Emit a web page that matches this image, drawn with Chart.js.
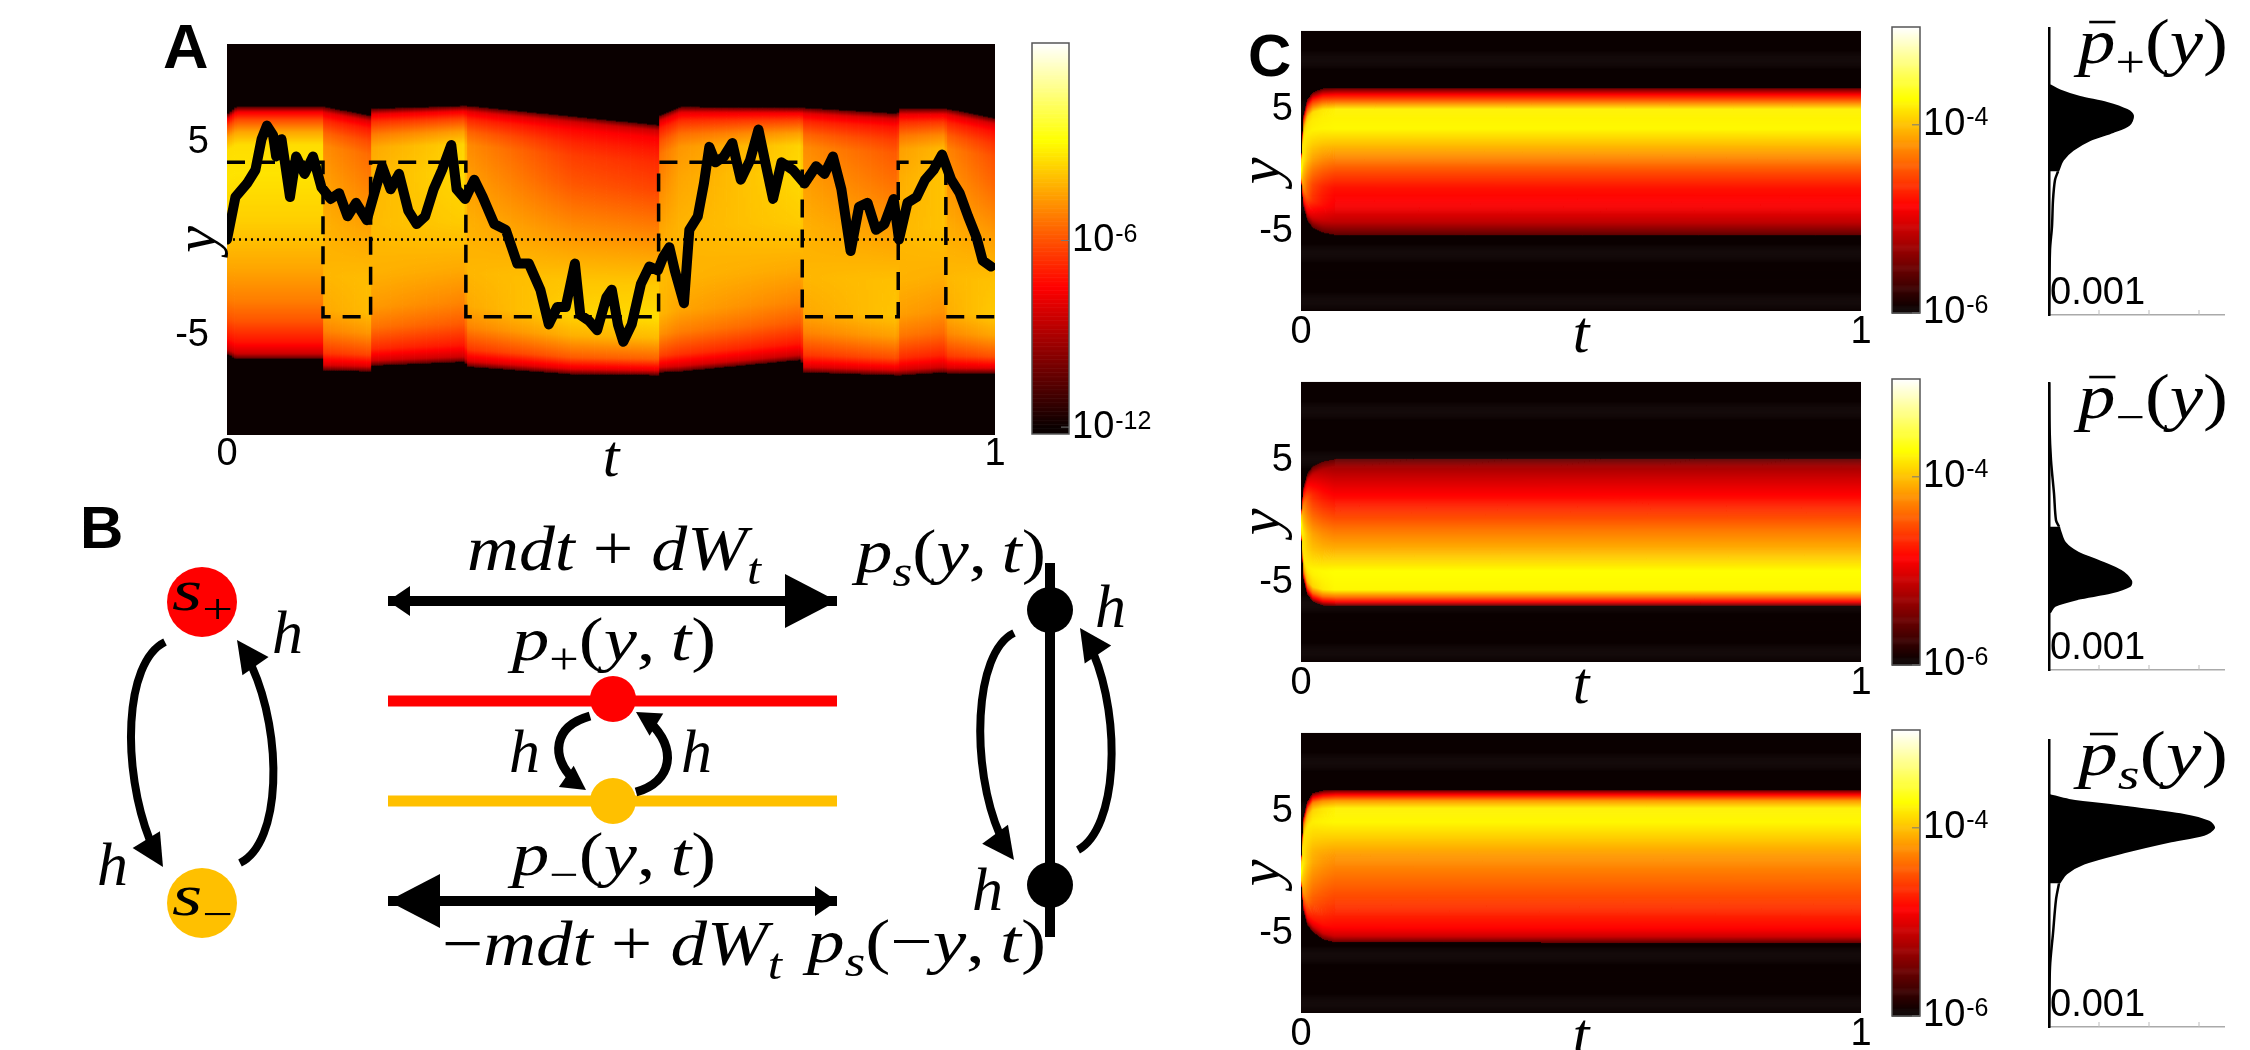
<!DOCTYPE html>
<html>
<head>
<meta charset="utf-8">
<title>Switching drift: sample path, diagram and filter densities</title>
<script src="https://cdn.jsdelivr.net/npm/chart.js@4.4.1/dist/chart.umd.min.js"></script>
<style>
  html, body { margin: 0; padding: 0; background: #fff; }
  body { position: relative; width: 2250px; height: 1050px; overflow: hidden; }
  canvas { position: absolute; }
</style>
</head>
<body>
<canvas id="heatA" width="1010" height="490" style="left:0;top:0"></canvas>
<canvas id="barA" width="180" height="480" style="left:1010px;top:0"></canvas>
<canvas id="diagB" width="1190" height="580" style="left:0;top:470px"></canvas>
<canvas id="heatC0" width="725" height="360" style="left:1150px;top:0"></canvas>
<canvas id="heatC1" width="725" height="360" style="left:1150px;top:351px"></canvas>
<canvas id="heatC2" width="725" height="360" style="left:1150px;top:702px"></canvas>
<canvas id="barC0" width="130" height="360" style="left:1870px;top:0"></canvas>
<canvas id="barC1" width="130" height="360" style="left:1870px;top:351px"></canvas>
<canvas id="barC2" width="130" height="360" style="left:1870px;top:702px"></canvas>
<canvas id="denC0" width="260" height="330" style="left:1990px;top:8px"></canvas>
<canvas id="denC1" width="260" height="330" style="left:1990px;top:363px"></canvas>
<canvas id="denC2" width="260" height="330" style="left:1990px;top:720px"></canvas>
<script>
// ---------- panel A: sample path y(t), hidden state and filter ----------
const trajT = [0, 0.011, 0.026, 0.037, 0.045, 0.052, 0.060, 0.064, 0.071, 0.082,
  0.090, 0.101, 0.112, 0.123, 0.135, 0.146, 0.157, 0.168, 0.182, 0.194,
  0.202, 0.213, 0.224, 0.236, 0.247, 0.258, 0.269, 0.280, 0.292, 0.299,
  0.310, 0.322, 0.333, 0.348, 0.363, 0.378, 0.393, 0.408, 0.419, 0.430,
  0.441, 0.453, 0.460, 0.471, 0.482, 0.494, 0.501, 0.509, 0.516, 0.527,
  0.539, 0.550, 0.561, 0.568, 0.576, 0.583, 0.595, 0.602, 0.613, 0.621,
  0.628, 0.636, 0.647, 0.658, 0.669, 0.681, 0.692, 0.703, 0.711, 0.722,
  0.737, 0.752, 0.767, 0.778, 0.789, 0.800, 0.812, 0.823, 0.834, 0.845,
  0.856, 0.868, 0.875, 0.886, 0.898, 0.909, 0.920, 0.931, 0.943, 0.954,
  0.965, 0.976, 0.984, 0.995];
const trajY = [0, 2.2, 2.9, 3.6, 5.2, 5.9, 5.4, 4.3, 5.2, 2.2,
  4.3, 3.4, 4.3, 2.7, 2.1, 2.4, 1.2, 1.9, 1.0, 2.7,
  3.8, 2.6, 3.4, 1.5, 0.8, 1.2, 2.6, 3.6, 4.9, 2.6,
  2.1, 3.1, 2.2, 0.8, 0.5, -1.25, -1.25, -2.6, -4.4, -3.5,
  -3.5, -1.25, -3.9, -4.2, -4.7, -3.0, -2.6, -4.4, -5.3, -4.4,
  -2.3, -1.4, -1.6, -0.9, -0.4, -1.6, -3.3, 0.5, 1.2, 2.9,
  4.8, 4.0, 4.3, 5.0, 3.1, 4.1, 5.7, 3.6, 2.1, 4.0,
  3.6, 2.9, 3.8, 3.4, 4.3, 2.6, -0.6, 1.7, 1.9, 0.5,
  0.8, 2.1, 0, 1.9, 2.2, 3.1, 3.6, 4.4, 3.1, 2.4,
  1.2, 0.1, -1.1, -1.4];
const switchT = [0, 0.125, 0.187, 0.311, 0.562, 0.749, 0.874, 0.936, 1];
const switchY = [4, -4, 4, -4, 4, -4, 4, -4, -4];
const tTicks = [0, 1];
const yTicks = [-5, 5];

// filter band: edges and colour-map fraction (0 black .. 1 white)
const heatAT   = [0, 0.012, 0.124, 0.126, 0.186, 0.188, 0.31, 0.312, 0.45, 0.561, 0.563, 0.59, 0.748, 0.75, 0.873, 0.875, 0.935, 0.937, 1];
const heatATop = [6.5, 6.9, 6.9, 6.9, 6.45, 6.8, 6.95, 6.95, 6.4, 5.95, 6.45, 6.9, 6.85, 6.85, 6.55, 6.8, 6.8, 6.8, 6.3];
const heatABot = [-5.9, -6.15, -6.15, -6.75, -6.8, -6.5, -6.3, -6.55, -6.95, -7.0, -6.85, -6.8, -6.2, -6.85, -7.0, -7.0, -6.85, -6.9, -6.9];
const heatAMix = [0, 0, 0, 0.45, 0.65, 0.3, 0.05, 0.45, 0.9, 1, 0.6, 0.4, 0.05, 0.45, 0.75, 0.35, 0.2, 0.5, 0.8];
const profU     = [0, 0.02, 0.065, 0.15, 0.23, 0.36, 0.55, 0.74, 0.85, 0.9, 0.95, 0.98, 1];
const profPlus  = [0.13, 0.3, 0.4, 0.5, 0.56, 0.62, 0.68, 0.71, 0.7, 0.62, 0.48, 0.36, 0.13];
const profMinus = [0.13, 0.34, 0.52, 0.65, 0.7, 0.67, 0.58, 0.48, 0.44, 0.41, 0.37, 0.3, 0.13];
const barATicks = [1e-12, 1e-6];
const barALog = [-12.2, 0.35];

// ---------- panel C: p+, p-, ps over time, and their stationary profiles ----------
const heatCT   = [0, 0.004, 0.011, 0.021, 0.039, 0.06, 1];
const heatCMix = [0, 0.3, 0.55, 0.75, 0.9, 1, 1];
const topC1 = [0.6, 4.6, 5.9, 6.5, 6.8, 6.85, 6.85];
const botC1 = [-0.6, -2.8, -4.0, -4.6, -5.0, -5.2, -5.25];
const topC2 = [0.6, 2.8, 4.0, 4.6, 5.0, 5.2, 5.25];
const botC2 = [-0.6, -4.6, -5.9, -6.5, -6.8, -6.85, -6.85];
const topC3 = [0.6, 4.6, 5.9, 6.6, 6.8, 6.85, 6.85];
const botC3 = [-0.6, -3.0, -4.2, -4.8, -5.4, -5.65, -5.7];
const profInitU = [0, 0.06, 0.2, 0.5, 0.8, 0.94, 1];
const profInit  = [0.15, 0.45, 0.68, 0.78, 0.68, 0.45, 0.15];
const profC1U = [0, 0.087, 0.186, 0.318, 0.42, 0.52, 0.62, 0.723, 0.855, 0.905, 0.955, 1];
const profC1  = [0.14, 0.28, 0.36, 0.4, 0.48, 0.57, 0.66, 0.74, 0.73, 0.55, 0.38, 0.14];
const profC2U = [0, 0.029, 0.062, 0.11, 0.236, 0.376, 0.517, 0.69, 0.872, 0.95, 1];
const profC2  = [0.14, 0.38, 0.55, 0.74, 0.75, 0.64, 0.55, 0.42, 0.3, 0.24, 0.14];
const profC3U = [0, 0.04, 0.096, 0.17, 0.29, 0.45, 0.57, 0.69, 0.79, 0.88, 0.93, 0.97, 1];
const profC3  = [0.15, 0.3, 0.38, 0.42, 0.48, 0.55, 0.6, 0.68, 0.74, 0.73, 0.6, 0.38, 0.15];
const barCTicks = [1e-6, 1e-4];
const barCLog = [-6, -2.96];

const denTicks = [0.001, 0.002, 0.003];
const denC1FillY = [6.93, 6.5, 5.97, 5.5, 4.93, 4.45, 3.73, 3.17, 2.52, 1.72, 0.92, 0];
const denC1FillX = [0.00002, 0.00022, 0.00062, 0.00116, 0.00156, 0.00168, 0.0016, 0.00128, 0.00082, 0.00048, 0.00028, 0.00018];
const denC1LineY = [0, -0.68, -2.3, -4.4, -6.3, -11.5];
const denC1LineX = [0.00018, 0.00012, 0.00008, 0.00006, 0.00002, 0];
const denC2FillY = [0, -0.3, -1.3, -2.1, -2.73, -3.55, -4.35, -4.75, -5.3, -5.8, -6.36, -6.9];
const denC2FillX = [0.0002, 0.00022, 0.00032, 0.00058, 0.00098, 0.00144, 0.00164, 0.00162, 0.00124, 0.00058, 0.00012, 0.00002];
const denC2LineY = [11.5, 8, 5.3, 2.65, 0.5, 0];
const denC2LineX = [0, 0.00001, 0.00004, 0.0001, 0.00014, 0.0002];
const denC3FillY = [7.1, 6.7, 6.15, 5.5, 4.95, 4.45, 3.9, 3.35, 2.5, 1.6, 0.8, 0];
const denC3FillX = [0, 0.0004, 0.0015, 0.0027, 0.0032, 0.0033, 0.0031, 0.0024, 0.0015, 0.0007, 0.00035, 0.0002];
const denC3LineY = [0, -1.3, -4, -6.7, -11.5];
const denC3LineX = [0.0002, 0.00014, 0.00008, 0.00002, 0];

// ---------- panel B: diagram, in diagram units ----------
const stateX = [202, 202], stateY = [602, 903];
const dotX = [613, 613, 1050, 1050], dotY = [699, 801, 610, 885];
const trackX = [388, 837], trackY = [701, 801];
const axisY = [563, 937];
const driftY = [601, 901];
const hopCurves = [
  [165, 642, 118, 665, 122, 800, 163, 867],
  [240, 863, 287, 840, 283, 705, 237, 640],
  [590, 716, 548, 728, 550, 765, 586, 790],
  [636, 792, 678, 780, 678, 738, 636, 712],
  [1014, 633, 968, 655, 970, 800, 1014, 860],
  [1078, 850, 1123, 825, 1122, 690, 1080, 628]
];
const hLabelX = [272, 97, 509, 681, 1095, 972];
const hLabelY = [653, 885, 772, 772, 627, 910];

// ---------- helpers ----------
Chart.defaults.font.family = '"Liberation Sans", Arial, sans-serif';
Chart.defaults.color = '#000';
const SANS = '"Liberation Sans", Arial, sans-serif';
const SERIF = '"Liberation Serif", "DejaVu Serif", serif';
const BG = 0.0156;

function hot(f) {
  f = Math.max(BG, Math.min(1, f));
  const r = Math.min(1, f / 0.375);
  const g = Math.max(0, Math.min(1, (f - 0.375) / 0.375));
  const b = Math.max(0, Math.min(1, (f - 0.75) / 0.25));
  return 'rgb(' + Math.round(r * 255) + ',' + Math.round(g * 255) + ',' + Math.round(b * 255) + ')';
}

function interp(xs, ys, x) {
  if (x <= xs[0]) return ys[0];
  for (let i = 1; i < xs.length; i++) {
    if (x <= xs[i]) {
      const k = (x - xs[i - 1]) / (xs[i] - xs[i - 1]);
      return ys[i - 1] + k * (ys[i] - ys[i - 1]);
    }
  }
  return ys[ys.length - 1];
}

function bandField(T, TOP, BOT, MIX, u0, v0, u1, v1) {
  return (t, y) => {
    const top = interp(T, TOP, t), bot = interp(T, BOT, t);
    if (y > top || y < bot) return BG;
    const u = (y - bot) / (top - bot);
    const m = interp(T, MIX, t);
    return (1 - m) * interp(u0, v0, u) + m * interp(u1, v1, u);
  };
}

const pts = (xs, ys) => xs.map((x, i) => ({x: x, y: ys[i]}));

// parts: [text, kind]; kind i = italic, r = roman, si/sr = subscript, bi = italic with bar
function mathParts(ctx, parts, size, draw) {
  let cx = 0;
  for (const [txt, kind] of parts) {
    const sub = kind[0] === 's';
    const fs = sub ? size * 0.7 : size;
    ctx.font = (kind.endsWith('i') ? 'italic ' : '') + fs + 'px ' + SERIF;
    const w = ctx.measureText(txt).width;
    if (draw) {
      ctx.fillText(txt, cx, sub ? size * 0.22 : 0);
      if (kind === 'bi') ctx.fillRect(cx + w * 0.3, -size * 0.66, w * 0.7, size * 0.04);
    }
    cx += w;
  }
  return cx;
}

function mathText(ctx, x, y, parts, size, width) {
  ctx.save();
  ctx.textAlign = 'left';
  ctx.textBaseline = 'alphabetic';
  const natural = mathParts(ctx, parts, size, false);
  ctx.translate(x, y);
  if (width) ctx.scale(width / natural, 1);
  mathParts(ctx, parts, size, true);
  ctx.restore();
}

function heatPlugin(field, nt, ny) {
  return {
    id: 'heat',
    beforeDatasetsDraw(chart) {
      const {ctx, chartArea: a, scales: {x, y}} = chart;
      ctx.save();
      ctx.beginPath();
      ctx.rect(a.left, a.top, a.width, a.height);
      ctx.clip();
      const tAt = i => x.min + (x.max - x.min) * i / nt;
      for (let j = 0; j < ny; j++) {
        const y0 = y.min + (y.max - y.min) * j / ny;
        const y1 = y.min + (y.max - y.min) * (j + 1) / ny;
        const pTop = y.getPixelForValue(y1), pBot = y.getPixelForValue(y0);
        let runStart = 0, runColor = null;
        for (let i = 0; i <= nt; i++) {
          const col = i < nt ? hot(field((tAt(i) + tAt(i + 1)) / 2, (y0 + y1) / 2)) : null;
          if (col !== runColor) {
            if (runColor !== null) {
              const p0 = x.getPixelForValue(tAt(runStart)), p1 = x.getPixelForValue(tAt(i));
              ctx.fillStyle = runColor;
              ctx.fillRect(p0, pTop, p1 - p0 + 0.6, pBot - pTop + 0.6);
            }
            runStart = i;
            runColor = col;
          }
        }
      }
      ctx.restore();
    }
  };
}

function titlePlugin(yGap, letter, letterDx, letterDy, letterSize) {
  return {
    id: 'titles',
    afterDraw(chart) {
      const {ctx, chartArea: a, scales: {y}} = chart;
      ctx.save();
      ctx.fillStyle = '#000';
      ctx.font = 'italic 60px ' + SERIF;
      ctx.textAlign = 'center';
      ctx.textBaseline = 'alphabetic';
      ctx.fillText('t', (a.left + a.right) / 2, a.bottom + 41);
      ctx.translate(a.left - yGap, y.getPixelForValue(0));
      ctx.rotate(-Math.PI / 2);
      ctx.textBaseline = 'middle';
      ctx.fillText('y', 0, 0);
      ctx.restore();
      if (letter) {
        ctx.save();
        ctx.font = 'bold ' + letterSize + 'px ' + SANS;
        ctx.textAlign = 'left';
        ctx.fillStyle = '#000';
        ctx.fillText(letter, a.left + letterDx, a.top + letterDy);
        ctx.restore();
      }
    }
  };
}

function tAxis(height, pad) {
  return {
    type: 'linear', min: 0, max: 1,
    grid: {display: false, drawTicks: false}, border: {display: false},
    ticks: {font: {size: 38, lineHeight: 1}, padding: pad, maxRotation: 0},
    afterBuildTicks: s => { s.ticks = tTicks.map(v => ({value: v})); },
    afterFit: s => { s.height = height; }
  };
}

function yAxis(width, pad, lim) {
  return {
    type: 'linear', min: -lim, max: lim,
    grid: {display: false, drawTicks: false}, border: {display: false},
    ticks: {font: {size: 38}, padding: pad},
    afterBuildTicks: s => { s.ticks = yTicks.map(v => ({value: v})); },
    afterFit: s => { s.width = width; }
  };
}

const quiet = {legend: {display: false}, tooltip: {enabled: false}};

// ---------- panel A ----------
const fieldA = bandField(heatAT, heatATop, heatABot, heatAMix, profU, profPlus, profU, profMinus);
new Chart(document.getElementById('heatA'), {
  type: 'scatter',
  data: {
    datasets: [
      {data: pts(trajT, trajY), showLine: true, borderColor: '#000', borderWidth: 10, pointRadius: 0,
        borderJoinStyle: 'round', borderCapStyle: 'round'},
      {data: pts(switchT, switchY), showLine: true, stepped: 'before', borderColor: '#000', borderWidth: 3.5,
        borderDash: [18, 12], pointRadius: 0},
      {data: pts([0, 1], [0, 0]), showLine: true, borderColor: '#000', borderWidth: 2.5, borderDash: [2, 4], pointRadius: 0}
    ]
  },
  options: {
    responsive: false, animation: false,
    layout: {autoPadding: false, padding: {left: 0, top: 44, right: 15, bottom: 0}},
    plugins: quiet,
    scales: {x: tAxis(55, 1), y: yAxis(227, 18, 10.13)}
  },
  plugins: [heatPlugin(fieldA, 320, 391), titlePlugin(28, 'A', -64, 24, 63)]
});

// ---------- colour bars ----------
function barPlugin(lo, hi, expShift) {
  return {
    id: 'bar',
    beforeDatasetsDraw(chart) {
      const {ctx, chartArea: a, scales: {x, y}} = chart;
      const n = 300;
      const x0 = x.getPixelForValue(0), x1 = x.getPixelForValue(1);
      for (let j = 0; j < n; j++) {
        const p0 = y.getPixelForValue(Math.pow(10, lo + (hi - lo) * j / n));
        const p1 = y.getPixelForValue(Math.pow(10, lo + (hi - lo) * (j + 1) / n));
        ctx.fillStyle = hot((j + 0.5) / n);
        ctx.fillRect(x0, p1, x1 - x0, p0 - p1 + 0.6);
      }
      ctx.strokeStyle = '#555';
      ctx.lineWidth = 1.5;
      ctx.strokeRect(a.left, a.top, a.width, a.height);
    },
    afterDraw(chart) {
      // tick labels as 10 with a raised exponent, at the axis' own tick positions
      const {ctx, chartArea: a, scales: {y}} = chart;
      ctx.save();
      ctx.fillStyle = '#000';
      ctx.textAlign = 'left';
      y.ticks.forEach(tk => {
        const py = y.getPixelForValue(tk.value);
        ctx.font = '38px ' + SANS;
        ctx.textBaseline = 'middle';
        ctx.fillText('10', a.right + 3, py);
        const w = ctx.measureText('10').width;
        ctx.font = '25px ' + SANS;
        ctx.textBaseline = 'alphabetic';
        ctx.fillText(String(Math.round(Math.log10(tk.value))), a.right + 3 + w + 1, py + expShift);
        ctx.strokeStyle = '#777';
        ctx.lineWidth = 1;
        ctx.beginPath();
        ctx.moveTo(a.right - 8, py);
        ctx.lineTo(a.right, py);
        ctx.stroke();
      });
      ctx.restore();
    }
  };
}

function colorBar(id, logLim, ticks, padTop, padBottom, padLeft, axisW, expShift) {
  new Chart(document.getElementById(id), {
    type: 'scatter',
    data: {datasets: []},
    options: {
      responsive: false, animation: false,
      layout: {autoPadding: false, padding: {top: padTop, bottom: padBottom, left: padLeft, right: 0}},
      plugins: quiet,
      scales: {
        x: {type: 'linear', min: 0, max: 1, display: false},
        y: {
          type: 'logarithmic', position: 'right', min: Math.pow(10, logLim[0]), max: Math.pow(10, logLim[1]),
          grid: {display: false, drawTicks: false}, border: {display: false},
          ticks: {font: {size: 38}, color: 'rgba(0,0,0,0)', padding: 4, callback: v => '10^' + Math.round(Math.log10(v))},
          afterBuildTicks: s => { s.ticks = ticks.map(v => ({value: v})); },
          afterFit: s => { s.width = axisW; }
        }
      }
    },
    plugins: [barPlugin(logLim[0], logLim[1], expShift)]
  });
}

colorBar('barA', barALog, barATicks, 43, 46, 22, 121, 2);
colorBar('barC0', barCLog, barCTicks, 27, 47, 22, 80, 0);
colorBar('barC1', barCLog, barCTicks, 28, 46, 22, 80, 0);
colorBar('barC2', barCLog, barCTicks, 28, 46, 22, 80, 0);

// ---------- panel C heat maps ----------
const cRows = [
  {id: 'heatC0', top: topC1, bot: botC1, u: profC1U, v: profC1, letter: 'C'},
  {id: 'heatC1', top: topC2, bot: botC2, u: profC2U, v: profC2, letter: null},
  {id: 'heatC2', top: topC3, bot: botC3, u: profC3U, v: profC3, letter: null}
];
cRows.forEach(r => {
  const field = bandField(heatCT, r.top, r.bot, heatCMix, profInitU, profInit, r.u, r.v);
  new Chart(document.getElementById(r.id), {
    type: 'scatter',
    data: {datasets: []},
    options: {
      responsive: false, animation: false,
      layout: {autoPadding: false, padding: {left: 0, top: 25, right: 14, bottom: 0}},
      plugins: quiet,
      scales: {x: tAxis(49, 3), y: yAxis(151, 8, 11.5)}
    },
    plugins: [heatPlugin(field, 560, 286), titlePlugin(38, r.letter, -53, 45, 60)]
  });
});

// ---------- panel C stationary densities ----------
function labelPlugin(parts) {
  return {
    id: 'denLabel',
    afterDraw(chart) {
      const {ctx, chartArea: a, scales: {x}} = chart;
      ctx.save();
      ctx.strokeStyle = '#bbb';
      ctx.lineWidth = 1;
      denTicks.forEach(v => {
        const p = x.getPixelForValue(v);
        ctx.beginPath();
        ctx.moveTo(p, a.bottom);
        ctx.lineTo(p, a.bottom - 5);
        ctx.stroke();
      });
      ctx.fillStyle = '#000';
      mathText(ctx, a.left + 29, a.top + 35, parts, 64, 150);
      ctx.font = '38px ' + SANS;
      ctx.textAlign = 'left';
      ctx.textBaseline = 'alphabetic';
      ctx.fillText('0.001', a.left + 1, a.bottom - 11);
      ctx.restore();
    }
  };
}

function density(id, fx, fy, lx, ly, parts) {
  new Chart(document.getElementById(id), {
    type: 'line',
    data: {
      datasets: [
        {data: pts(fx, fy), fill: 'origin', backgroundColor: '#000', borderColor: '#000', borderWidth: 2,
          pointRadius: 0, tension: 0.3},
        {data: pts(lx, ly), fill: false, borderColor: '#000', borderWidth: 2.5, pointRadius: 0, tension: 0.3}
      ]
    },
    options: {
      indexAxis: 'y',
      responsive: false, animation: false,
      layout: {autoPadding: false, padding: {left: 0, top: 20, right: 26, bottom: 0}},
      plugins: quiet,
      scales: {
        x: {type: 'linear', min: 0, max: 0.0035, grid: {display: false, drawTicks: false},
          border: {display: true, color: '#aaa', width: 1.5}, ticks: {display: false},
          afterFit: s => { s.height = 23; }},
        y: {type: 'linear', min: -11.5, max: 11.5, grid: {display: false, drawTicks: false},
          border: {display: true, color: '#000', width: 2.5}, ticks: {display: false},
          afterFit: s => { s.width = 59; }}
      }
    },
    plugins: [labelPlugin(parts)]
  });
}

density('denC0', denC1FillX, denC1FillY, denC1LineX, denC1LineY,
  [['p', 'bi'], ['+', 'sr'], ['(', 'r'], ['y', 'i'], [')', 'r']]);
density('denC1', denC2FillX, denC2FillY, denC2LineX, denC2LineY,
  [['p', 'bi'], ['\u2212', 'sr'], ['(', 'r'], ['y', 'i'], [')', 'r']]);
density('denC2', denC3FillX, denC3FillY, denC3LineX, denC3LineY,
  [['p', 'bi'], ['s', 'si'], ['(', 'r'], ['y', 'i'], [')', 'r']]);

// ---------- panel B diagram ----------
function arrowHead(ctx, tx, ty, dx, dy, len, hw) {
  const d = Math.hypot(dx, dy);
  const ux = dx / d, uy = dy / d;
  const bx = tx - ux * len, by = ty - uy * len;
  ctx.beginPath();
  ctx.moveTo(tx, ty);
  ctx.lineTo(bx - uy * hw, by + ux * hw);
  ctx.lineTo(bx + uy * hw, by - ux * hw);
  ctx.closePath();
  ctx.fill();
}

function firstPart(P, t) {
  const L = (a, b) => [a[0] + (b[0] - a[0]) * t, a[1] + (b[1] - a[1]) * t];
  const A = L(P[0], P[1]), B = L(P[1], P[2]), C = L(P[2], P[3]);
  const D = L(A, B), E = L(B, C), F = L(D, E);
  return [P[0], A, D, F];
}

const diagramPlugin = {
  id: 'diagram',
  afterDatasetsDraw(chart) {
    const {ctx, scales: {x, y}} = chart;
    const px = v => x.getPixelForValue(v), py = v => y.getPixelForValue(v);
    ctx.save();
    ctx.fillStyle = '#000';
    ctx.strokeStyle = '#000';
    // straight drift arrows
    arrowHead(ctx, px(trackX[0]), py(driftY[0]), -1, 0, 22, 15);
    arrowHead(ctx, px(trackX[1]), py(driftY[0]), 1, 0, 52, 27);
    arrowHead(ctx, px(trackX[0]), py(driftY[1]), -1, 0, 52, 27);
    arrowHead(ctx, px(trackX[1]), py(driftY[1]), 1, 0, 22, 15);
    // switching arrows
    hopCurves.forEach((c, k) => {
      const P = [[px(c[0]), py(c[1])], [px(c[2]), py(c[3])], [px(c[4]), py(c[5])], [px(c[6]), py(c[7])]];
      const Q = firstPart(P, 0.88);
      const small = k === 2 || k === 3;
      ctx.lineWidth = small ? 9 : 8;
      ctx.lineCap = 'butt';
      ctx.beginPath();
      ctx.moveTo(Q[0][0], Q[0][1]);
      ctx.bezierCurveTo(Q[1][0], Q[1][1], Q[2][0], Q[2][1], Q[3][0], Q[3][1]);
      ctx.stroke();
      arrowHead(ctx, P[3][0], P[3][1], P[3][0] - P[2][0], P[3][1] - P[2][1], small ? 24 : 32, small ? 13 : 16);
    });
    ctx.restore();
  },
  afterDraw(chart) {
    const {ctx, scales: {x, y}} = chart;
    const px = v => x.getPixelForValue(v), py = v => y.getPixelForValue(v);
    ctx.save();
    ctx.fillStyle = '#000';
    ctx.font = 'bold 60px ' + SANS;
    ctx.textAlign = 'left';
    ctx.fillText('B', px(80), py(548));
    const pArgs = [['(', 'r'], ['y', 'i'], [',\u2009', 'r'], ['t', 'i'], [')', 'r']];
    mathText(ctx, px(172), py(610), [['s', 'i'], ['+', 'sr']], 60, 61);
    mathText(ctx, px(172), py(915), [['s', 'i'], ['\u2212', 'sr']], 60, 61);
    mathText(ctx, px(467), py(570), [['mdt', 'i'], [' + ', 'r'], ['dW', 'i'], ['t', 'si']], 64, 294);
    mathText(ctx, px(512), py(660), [['p', 'i'], ['+', 'sr']].concat(pArgs), 62, 204);
    mathText(ctx, px(512), py(875), [['p', 'i'], ['\u2212', 'sr']].concat(pArgs), 62, 204);
    mathText(ctx, px(442), py(965), [['\u2212', 'r'], ['mdt', 'i'], [' + ', 'r'], ['dW', 'i'], ['t', 'si']], 64, 340);
    mathText(ctx, px(856), py(572), [['p', 'i'], ['s', 'si']].concat(pArgs), 62, 190);
    mathText(ctx, px(807), py(962), [['p', 'i'], ['s', 'si'], ['(', 'r'], ['\u2212', 'r'], ['y', 'i'], [',\u2009', 'r'], ['t', 'i'], [')', 'r']], 62, 239);
    hLabelX.forEach((hx, i) => mathText(ctx, px(hx), py(hLabelY[i]), [['h', 'i']], 62));
    ctx.restore();
  }
};

new Chart(document.getElementById('diagB'), {
  type: 'scatter',
  data: {
    datasets: [
      {data: pts(stateX, stateY), pointRadius: 35, pointBackgroundColor: ['#ff0000', '#ffc000'], pointBorderWidth: 0},
      {data: pts(dotX, dotY), pointRadius: 23, pointBackgroundColor: ['#ff0000', '#ffc000', '#000', '#000'], pointBorderWidth: 0},
      {data: pts(trackX, [trackY[0], trackY[0]]), showLine: true, borderColor: '#ff0000', borderWidth: 11, pointRadius: 0},
      {data: pts(trackX, [trackY[1], trackY[1]]), showLine: true, borderColor: '#ffc000', borderWidth: 11, pointRadius: 0},
      {data: pts([dotX[2], dotX[3]], axisY), showLine: true, borderColor: '#000', borderWidth: 10, pointRadius: 0},
      {data: pts(trackX, [driftY[0], driftY[0]]), showLine: true, borderColor: '#000', borderWidth: 10, pointRadius: 0},
      {data: pts(trackX, [driftY[1], driftY[1]]), showLine: true, borderColor: '#000', borderWidth: 10, pointRadius: 0}
    ]
  },
  options: {
    responsive: false, animation: false,
    layout: {autoPadding: false, padding: 0},
    plugins: quiet,
    scales: {
      x: {type: 'linear', min: 0, max: 1190, display: false},
      y: {type: 'linear', min: 470, max: 1050, reverse: true, display: false}
    }
  },
  plugins: [diagramPlugin]
});
</script>
</body>
</html>
